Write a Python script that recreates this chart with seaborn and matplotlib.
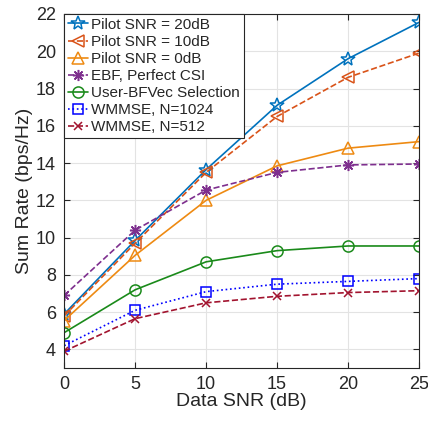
import matplotlib
matplotlib.use("Agg")
import matplotlib.pyplot as plt
import seaborn as sns
import pandas as pd

snr_db = [0, 5, 10, 15, 20, 25]

pilot_20db = [5.9, 9.85, 13.65, 17.1, 19.6, 21.55]
pilot_10db = [5.8, 9.7, 13.5, 16.5, 18.6, 19.9]
pilot_0db = [5.55, 9.05, 12.0, 13.85, 14.8, 15.15]
ebf_perfect = [6.9, 10.4, 12.55, 13.5, 13.9, 13.95]
user_bfvec = [4.9, 7.2, 8.7, 9.3, 9.55, 9.55]
wmmse_1024 = [4.2, 6.1, 7.1, 7.5, 7.65, 7.8]
wmmse_512 = [3.9, 5.65, 6.5, 6.85, 7.05, 7.15]

labels = ["Pilot SNR = 20dB", "Pilot SNR = 10dB", "Pilot SNR = 0dB",
          "EBF, Perfect CSI", "User-BFVec Selection",
          "WMMSE, N=1024", "WMMSE, N=512"]
series = [pilot_20db, pilot_10db, pilot_0db, ebf_perfect, user_bfvec,
          wmmse_1024, wmmse_512]

styles = [
    dict(color="#0072BD", ls="-", marker="*", ms=10),
    dict(color="#D95319", ls="--", marker="<", ms=8),
    dict(color="#EE8A12", ls="-", marker="^", ms=9),
    dict(color="#7E2F8E", ls="--", marker=(8, 2, 0), ms=8),
    dict(color="#1A8A1A", ls="-", marker="o", ms=8),
    dict(color="#0000FF", ls=":", marker="s", ms=7),
    dict(color="#A2142F", ls="--", marker="x", ms=6),
]

df = pd.DataFrame({
    "snr": snr_db * len(series),
    "rate": [v for s in series for v in s],
    "scheme": [lab for lab in labels for _ in snr_db],
})

sns.set_style("white")
plt.rcParams["font.family"] = ["Liberation Sans", "DejaVu Sans"]

fig = plt.figure(figsize=(4.28, 4.24), dpi=100)
ax = fig.add_axes([0.150, 0.132, 0.829, 0.835])

for lab, st in zip(labels, styles):
    sub = df[df["scheme"] == lab]
    sns.lineplot(data=sub, x="snr", y="rate", ax=ax, label=lab,
                 color=st["color"], linestyle=st["ls"], marker=st["marker"],
                 markersize=st["ms"], markerfacecolor="none",
                 markeredgecolor=st["color"], markeredgewidth=1.1,
                 linewidth=1.2)

ax.set_xlim(0, 25)
ax.set_ylim(3, 22)
ax.set_xticks(snr_db)
ax.set_yticks(range(4, 23, 2))
ax.grid(True, color="#E3E3E3", linewidth=0.8)
ax.tick_params(direction="in", length=4, labelsize=13, colors="#262626",
               top=True, right=True, bottom=True, left=True, pad=6)
for sp in ax.spines.values():
    sp.set_color("#262626")
    sp.set_linewidth(0.8)

ax.set_xlabel("Data SNR (dB)", fontsize=14, color="#262626", labelpad=0)
ax.set_ylabel("Sum Rate (bps/Hz)", fontsize=14, color="#262626", labelpad=2)

leg = ax.legend(loc="upper left", fontsize=11, frameon=True, fancybox=False,
                edgecolor="#262626", framealpha=1, borderaxespad=0,
                handlelength=1.3, handletextpad=0.2, labelspacing=0.2,
                borderpad=0.25)
leg.get_frame().set_linewidth(0.8)

fig.savefig("out.png", dpi=100)
